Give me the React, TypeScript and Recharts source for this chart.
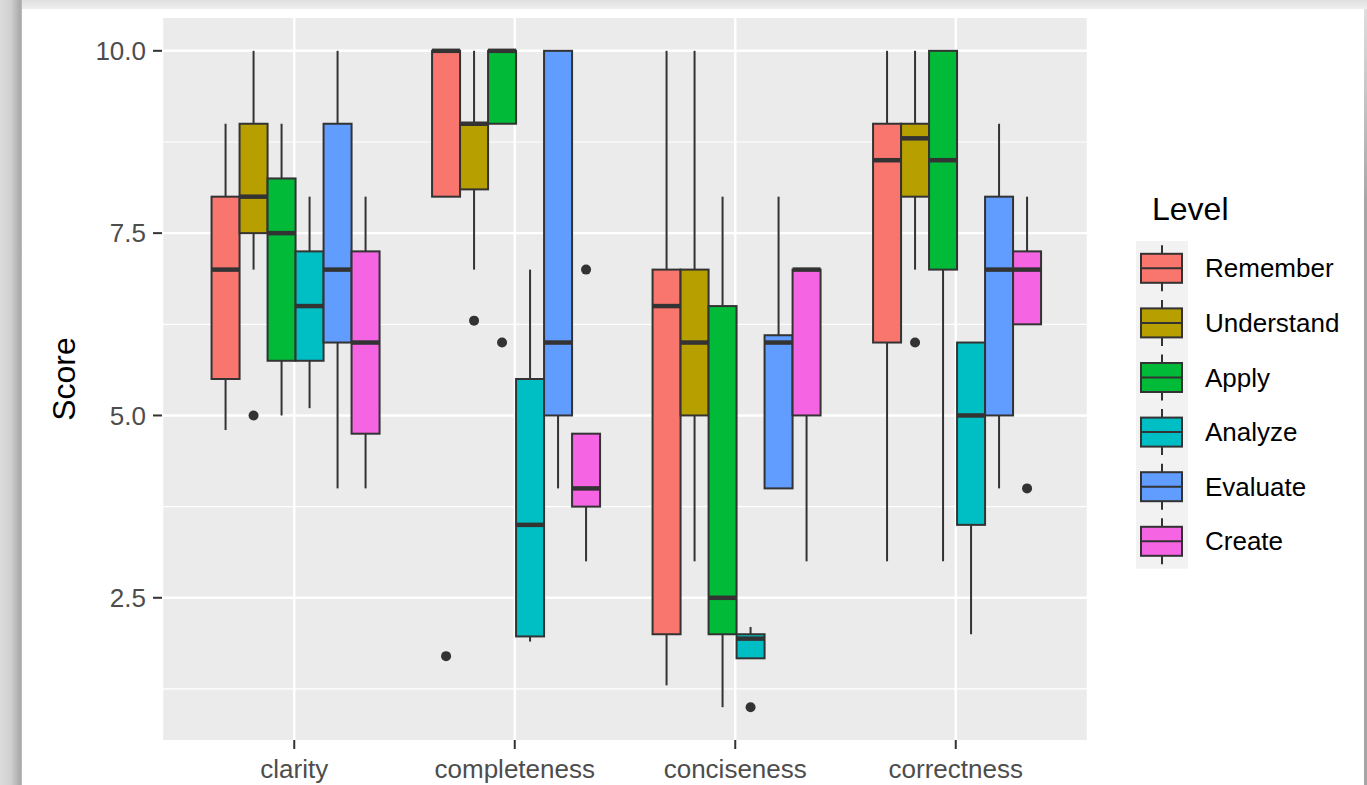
import React from "react";
import { ComposedChart, Bar, XAxis, YAxis, CartesianGrid } from "recharts";

const FONT = "'Liberation Sans', Arial, Helvetica, sans-serif";

const metrics = ["clarity", "completeness", "conciseness", "correctness"];
const levels = ["Remember", "Understand", "Apply", "Analyze", "Evaluate", "Create"];
const levelColors = ["#F8766D", "#B79F00", "#00BA38", "#00BFC4", "#619CFF", "#F564E3"];

// [lower whisker, Q1, median, Q3, upper whisker] for each metric (same order as metrics)
const rememberStats = [
  [4.8, 5.5, 7.0, 8.0, 9.0],
  [8.0, 8.0, 10.0, 10.0, 10.0],
  [1.3, 2.0, 6.5, 7.0, 10.0],
  [3.0, 6.0, 8.5, 9.0, 10.0],
];
const understandStats = [
  [7.0, 7.5, 8.0, 9.0, 10.0],
  [7.0, 8.1, 9.0, 9.0, 10.0],
  [3.0, 5.0, 6.0, 7.0, 10.0],
  [7.0, 8.0, 8.8, 9.0, 10.0],
];
const applyStats = [
  [5.0, 5.75, 7.5, 8.25, 9.0],
  [9.0, 9.0, 10.0, 10.0, 10.0],
  [1.0, 2.0, 2.5, 6.5, 8.0],
  [3.0, 7.0, 8.5, 10.0, 10.0],
];
const analyzeStats = [
  [5.1, 5.75, 6.5, 7.25, 8.0],
  [1.9, 1.97, 3.5, 5.5, 7.0],
  [1.67, 1.67, 1.94, 2.0, 2.1],
  [2.0, 3.5, 5.0, 6.0, 6.0],
];
const evaluateStats = [
  [4.0, 6.0, 7.0, 9.0, 10.0],
  [4.0, 5.0, 6.0, 10.0, 10.0],
  [4.0, 4.0, 6.0, 6.1, 8.0],
  [4.0, 5.0, 7.0, 8.0, 9.0],
];
const createStats = [
  [4.0, 4.75, 6.0, 7.25, 8.0],
  [3.0, 3.75, 4.0, 4.75, 4.75],
  [3.0, 5.0, 7.0, 7.0, 7.0],
  [6.25, 6.25, 7.0, 7.25, 8.0],
];

// outliers per metric
const rememberOutliers = [[], [1.7], [], []];
const understandOutliers = [[5.0], [6.3], [], [6.0]];
const applyOutliers = [[], [6.0], [], []];
const analyzeOutliers = [[], [], [1.0], []];
const evaluateOutliers = [[], [], [], []];
const createOutliers = [[], [7.0], [], [4.0]];

const yTicks = [2.5, 5, 7.5, 10];
const yMinorTicks = [1.25, 3.75, 6.25, 8.75];
const yDomain = [0.55, 10.45];

const levelStats = [rememberStats, understandStats, applyStats, analyzeStats, evaluateStats, createStats];
const levelOutliers = [
  rememberOutliers,
  understandOutliers,
  applyOutliers,
  analyzeOutliers,
  evaluateOutliers,
  createOutliers,
];

const chartData = metrics.map((m, mi) => {
  const row: any = { metric: m };
  levels.forEach((lv, li) => {
    const s = levelStats[li][mi];
    const o = levelOutliers[li][mi];
    row[lv] = [Math.min(s[0], ...o), Math.max(s[4], ...o)];
  });
  return row;
});

const LINE = "#333333";

function makeBoxShape(li: number) {
  return (props: any) => {
    const { x, y, width, height, payload } = props;
    if (!payload) return <g />;
    const mi = metrics.indexOf(payload.metric);
    if (mi < 0) return <g />;
    const s = levelStats[li][mi];
    const outs = levelOutliers[li][mi];
    const [lo, hi] = payload[levels[li]];
    const top = Math.min(y, y + height);
    const bot = Math.max(y, y + height);
    const pix = (v: number) => top + ((hi - v) / (hi - lo)) * (bot - top);
    const cx = x + width / 2;
    const q3y = pix(s[3]);
    const q1y = pix(s[1]);
    return (
      <g>
        <line x1={cx} x2={cx} y1={pix(s[4])} y2={q3y} stroke={LINE} strokeWidth={2} />
        <line x1={cx} x2={cx} y1={q1y} y2={pix(s[0])} stroke={LINE} strokeWidth={2} />
        <rect
          x={x}
          y={q3y}
          width={width}
          height={Math.max(q1y - q3y, 0)}
          fill={levelColors[li]}
          stroke={LINE}
          strokeWidth={2}
        />
        <line x1={x} x2={x + width} y1={pix(s[2])} y2={pix(s[2])} stroke={LINE} strokeWidth={4.5} />
        {outs.map((v, k) => (
          <circle key={k} cx={cx} cy={pix(v)} r={5} fill={LINE} />
        ))}
      </g>
    );
  };
}

function LegendBlock() {
  const keyTop = 61;
  const keyH = 54.6;
  return (
    <svg width={237} height={420} style={{ position: "absolute", left: 1130, top: 180, fontFamily: FONT }}>
      <text x={22} y={40} fontSize={32} fill="#000000">
        Level
      </text>
      <rect x={6} y={keyTop} width={52} height={keyH * levels.length} fill="#F2F2F2" />
      {levels.map((lv, i) => {
        const cy = keyTop + keyH * i + keyH / 2;
        return (
          <g key={lv}>
            <line x1={32} x2={32} y1={cy - 23} y2={cy + 23} stroke={LINE} strokeWidth={2} />
            <rect x={11} y={cy - 14.5} width={41} height={29} fill={levelColors[i]} stroke={LINE} strokeWidth={2} />
            <line x1={11} x2={52} y1={cy} y2={cy} stroke={LINE} strokeWidth={2} />
            <text x={75} y={cy} fontSize={26} fill="#000000" dominantBaseline="central">
              {lv}
            </text>
          </g>
        );
      })}
    </svg>
  );
}

export default function App() {
  return (
    <div
      style={{
        position: "fixed",
        left: 0,
        top: 0,
        width: 1367,
        height: 785,
        background: "#ffffff",
        overflow: "hidden",
        fontFamily: FONT,
      }}
    >
      <div
        style={{
          position: "absolute",
          left: 0,
          top: 0,
          width: 1367,
          height: 9,
          background: "linear-gradient(to bottom, #e0e0e0, #eeeeee)",
        }}
      />
      <div
        style={{
          position: "absolute",
          left: 0,
          top: 0,
          width: 22,
          height: 785,
          background: "linear-gradient(to right, #dcdcdc 0%, #cfcfcf 50%, #a9a9a9 92%, #bdbdbd 100%)",
        }}
      />
      <div
        style={{
          position: "absolute",
          left: 1364,
          top: 9,
          width: 3,
          height: 776,
          background: "linear-gradient(to bottom, #dedede, #a6a6a6 25%)",
        }}
      />
      <div style={{ position: "absolute", left: 0, top: 0 }}>
        <ComposedChart
          width={1367}
          height={785}
          data={chartData}
          margin={{ top: 18, right: 279, bottom: 0, left: 0 }}
          barCategoryGap="12.5%"
          barGap={0}
        >
          <CartesianGrid
            fill="#EBEBEB"
            stroke="#FFFFFF"
            strokeWidth={1.2}
            vertical={false}
            horizontalValues={yMinorTicks}
          />
          <CartesianGrid stroke="#FFFFFF" strokeWidth={2.4} horizontalValues={yTicks} />
          <XAxis
            dataKey="metric"
            type="category"
            padding={{ left: 22, right: 22 }}
            axisLine={false}
            tickLine={{ stroke: LINE, strokeWidth: 2 }}
            tickSize={9}
            tickMargin={11}
            tick={{ fill: "#4D4D4D", fontSize: 26, fontFamily: FONT }}
            height={45}
            interval={0}
          />
          <YAxis
            type="number"
            domain={yDomain}
            ticks={yTicks}
            tickFormatter={(v: number) => v.toFixed(1)}
            axisLine={false}
            tickLine={{ stroke: LINE, strokeWidth: 2 }}
            tickSize={9}
            tickMargin={7}
            tick={{ fill: "#4D4D4D", fontSize: 26, fontFamily: FONT }}
            width={162}
            label={(p: any) => {
              const vb = p.viewBox || { x: 0, y: 18, width: 162, height: 722 };
              const cx = vb.x + 64;
              const cy = vb.y + vb.height / 2;
              return (
                <text
                  x={cx}
                  y={cy}
                  transform={`rotate(-90 ${cx} ${cy})`}
                  textAnchor="middle"
                  dominantBaseline="central"
                  fontSize={32}
                  fill="#000000"
                  fontFamily={FONT}
                >
                  Score
                </text>
              );
            }}
          />
          {levels.map((lv, li) => (
            <Bar key={lv} dataKey={lv} shape={makeBoxShape(li)} isAnimationActive={false} />
          ))}
        </ComposedChart>
      </div>
      <LegendBlock />
    </div>
  );
}
